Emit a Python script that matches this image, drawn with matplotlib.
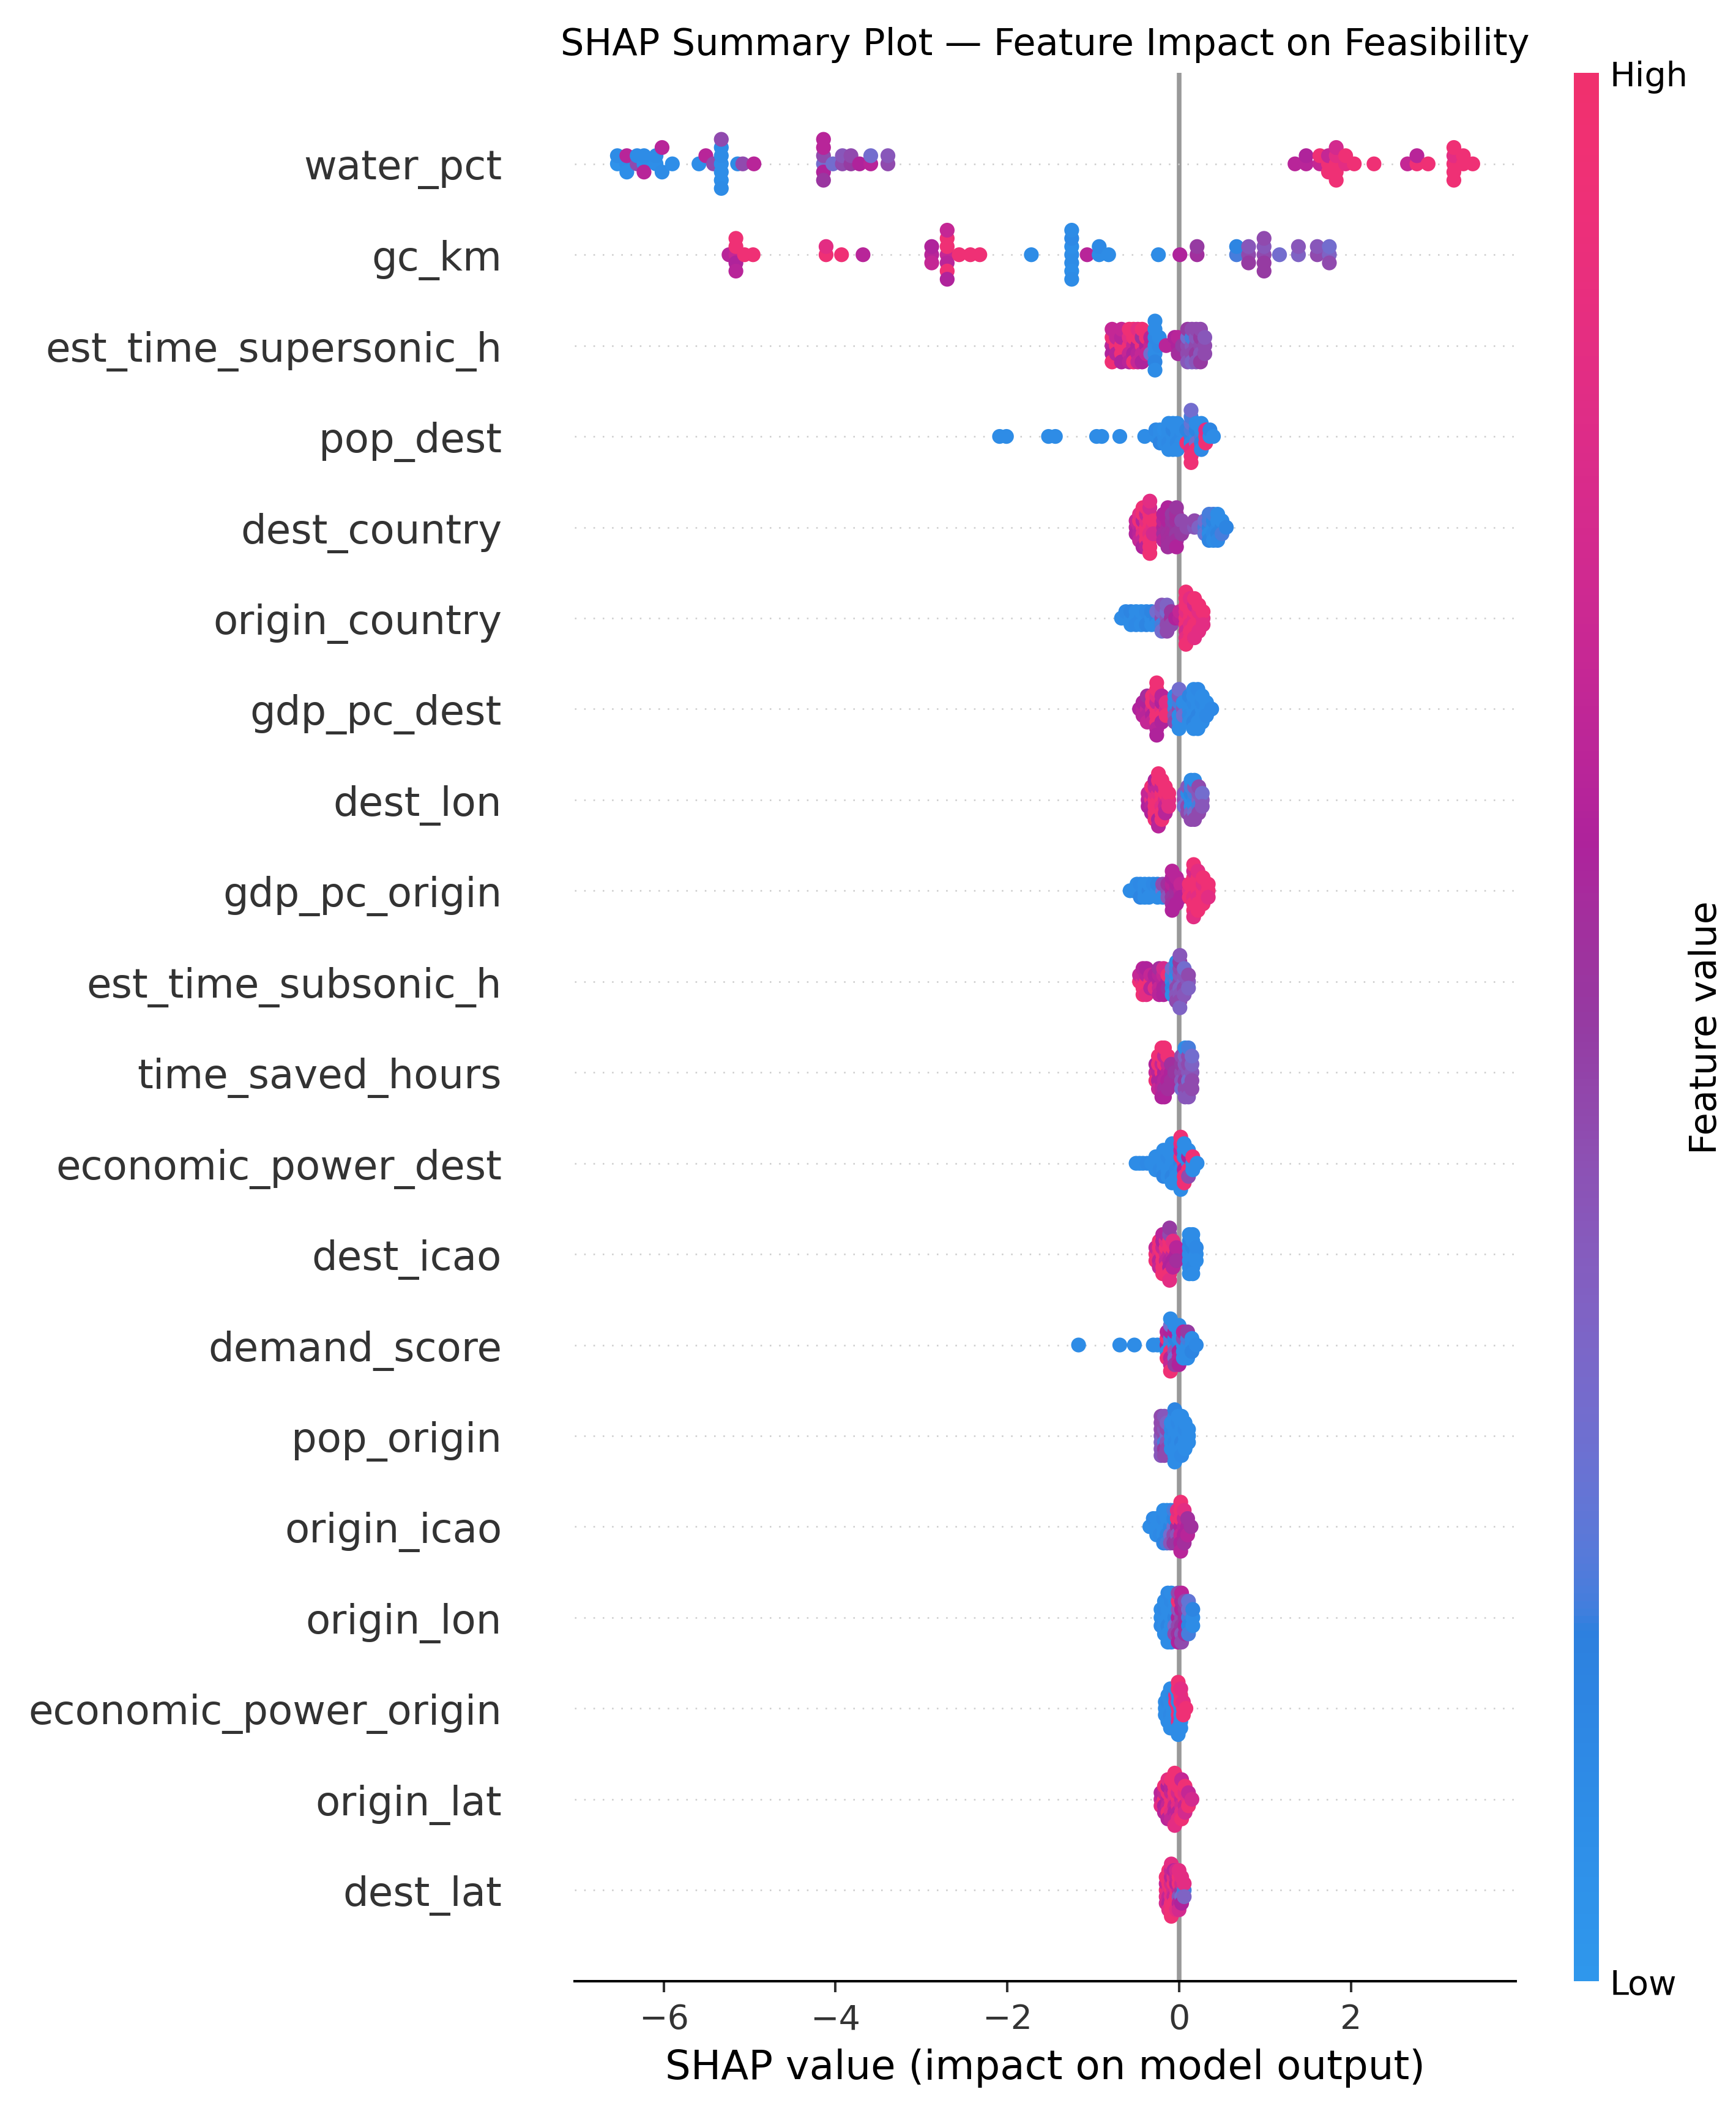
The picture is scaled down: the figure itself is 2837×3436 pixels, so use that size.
import numpy as np
import matplotlib
matplotlib.use("Agg")
import matplotlib.pyplot as plt
from matplotlib.colors import LinearSegmentedColormap, Normalize, rgb_to_hsv, hsv_to_rgb
from matplotlib.cm import ScalarMappable

# features, top row first
features = ["water_pct", "gc_km", "est_time_supersonic_h", "pop_dest", "dest_country",
            "origin_country", "gdp_pc_dest", "dest_lon", "gdp_pc_origin", "est_time_subsonic_h",
            "time_saved_hours", "economic_power_dest", "dest_icao", "demand_score", "pop_origin",
            "origin_icao", "origin_lon", "economic_power_origin", "origin_lat", "dest_lat"]

# each entry: (shap value, [normalised feature value of every point at that shap value])
water_pct = [
    (-6.54, [0.05, 0.1]), (-6.43, [0.1, 0.63, 0.08]), (-6.31, [0.45, 0.1]),
    (-6.23, [0.08, 0.1, 0.63]), (-6.09, [0.08, 0.1]), (-6.02, [0.1, 0.63]), (-5.90, [0.08]),
    (-5.59, [0.08]), (-5.51, [0.63]), (-5.42, [0.45]),
    (-5.33, [0.08, 0.1, 0.08, 0.1, 0.08, 0.45, 0.1]),
    (-5.14, [0.1]), (-5.08, [0.45]), (-4.95, [0.63]),
    (-4.14, [0.3, 0.45, 0.6, 0.63, 0.52, 0.63]), (-4.03, [0.3]), (-3.92, [0.45, 0.4]),
    (-3.82, [0.5, 0.45]), (-3.72, [0.6]), (-3.59, [0.63, 0.3]), (-3.39, [0.45, 0.4]),
    (1.35, [0.63]), (1.48, [0.63, 0.6]), (1.64, [0.68, 0.95]), (1.74, [0.95, 0.68, 0.95]),
    (1.83, [0.95, 0.85, 0.95, 0.75, 0.95]), (1.94, [0.85, 0.95]), (2.04, [0.95]), (2.27, [0.95]),
    (2.66, [0.68]), (2.77, [0.95, 0.63]), (2.90, [0.95]),
    (3.20, [0.95, 0.85, 0.95, 0.95, 0.95]), (3.31, [0.95, 0.95]), (3.42, [0.95]),
]
gc_km = [
    (-5.24, [0.63]), (-5.16, [0.68, 0.95, 0.6, 0.95, 0.63]), (-5.06, [0.95]), (-4.96, [0.95]),
    (-4.11, [0.95, 0.85]), (-3.93, [0.95]), (-3.68, [0.63]),
    (-2.88, [0.63, 0.6, 0.68]), (-2.70, [0.68, 0.95, 0.63, 0.95, 0.95, 0.68, 0.6]),
    (-2.56, [0.95]), (-2.43, [0.95]), (-2.32, [0.95]),
    (-1.72, [0.1]), (-1.25, [0.1, 0.08, 0.1, 0.12, 0.08, 0.1, 0.1]), (-1.07, [0.63]),
    (-0.93, [0.1, 0.12]), (-0.82, [0.1]),
    (-0.24, [0.1]), (0.01, [0.6]), (0.21, [0.55, 0.5]),
    (0.67, [0.2, 0.15]), (0.81, [0.45, 0.4, 0.5]), (0.99, [0.45, 0.4, 0.5, 0.45, 0.5]),
    (1.17, [0.3]), (1.39, [0.35, 0.4]), (1.61, [0.45, 0.4]), (1.75, [0.35, 0.3, 0.45]),
]
est_time_supersonic_h = [
    (-0.78, [0.63, 0.95, 0.6, 0.68, 0.95]), (-0.73, [0.95, 0.68, 0.63]),
    (-0.67, [0.95, 0.63, 0.95, 0.68, 0.6]), (-0.58, [0.95, 0.85, 0.68, 0.95, 0.63]),
    (-0.53, [0.68, 0.95, 0.6, 0.95, 0.95]), (-0.48, [0.6, 0.95, 0.63, 0.85, 0.68]),
    (-0.43, [0.95, 0.55, 0.68, 0.95, 0.6]), (-0.38, [0.6, 0.95, 0.68]), (-0.33, [0.68, 0.63, 0.3]),
    (-0.28, [0.1, 0.12, 0.1, 0.1, 0.15, 0.1, 0.1]), (-0.23, [0.12, 0.1]),
    (-0.15, [0.63]), (-0.05, [0.63, 0.6]), (-0.01, [0.6, 0.63, 0.56]), (0.04, [0.5]),
    (0.10, [0.45, 0.3, 0.45, 0.5, 0.4]), (0.15, [0.4, 0.2, 0.45, 0.45, 0.35]),
    (0.20, [0.45, 0.4, 0.5, 0.45, 0.4]), (0.25, [0.45, 0.5, 0.4, 0.45, 0.5]),
    (0.30, [0.45, 0.4, 0.45]),
]
pop_dest = [
    (-2.09, [0.1]), (-2.01, [0.1]), (-1.52, [0.1]), (-1.44, [0.1]), (-0.96, [0.1]),
    (-0.90, [0.1]), (-0.69, [0.1]), (-0.40, [0.1]),
    (-0.27, [0.1, 0.12]), (-0.22, [0.1, 0.1, 0.15]), (-0.17, [0.1, 0.08, 0.1]),
    (-0.12, [0.1, 0.1, 0.12, 0.1, 0.1]), (-0.07, [0.1, 0.15, 0.1, 0.1, 0.1]),
    (-0.02, [0.1, 0.1, 0.12, 0.1, 0.1]), (0.03, [0.12, 0.1, 0.1]),
    (0.09, [0.1, 0.15, 0.95]), (0.14, [0.15, 0.2, 0.12, 0.25, 0.85, 0.2, 0.95, 0.3, 0.95]),
    (0.20, [0.1, 0.15, 0.3, 0.1, 0.95]), (0.26, [0.2, 0.1, 0.15, 0.1, 0.12]),
    (0.31, [0.95, 0.85, 0.95]), (0.36, [0.1, 0.15]), (0.40, [0.1]),
]
dest_country = [
    (-0.50, [0.63, 0.68, 0.6]), (-0.46, [0.68, 0.95, 0.63, 0.85, 0.68]),
    (-0.42, [0.95, 0.63, 0.85, 0.95, 0.68, 0.95, 0.6]), (-0.38, [0.95, 0.85, 0.95, 0.68, 0.95, 0.95, 0.63]),
    (-0.34, [0.95, 0.95, 0.85, 0.95, 0.95, 0.75, 0.95, 0.85, 0.95]), (-0.30, [0.85, 0.95, 0.75]),
    (-0.18, [0.6, 0.63, 0.56, 0.6, 0.63]), (-0.13, [0.56, 0.6, 0.55, 0.6, 0.56, 0.6, 0.55]),
    (-0.08, [0.55, 0.52, 0.56, 0.5, 0.55]), (-0.03, [0.52, 0.55, 0.5, 0.56, 0.55, 0.52, 0.6]),
    (0.03, [0.5, 0.45, 0.5]), (0.09, [0.45]), (0.18, [0.4, 0.45]), (0.23, [0.35]),
    (0.30, [0.2, 0.3, 0.25]), (0.35, [0.15, 0.2, 0.1, 0.2, 0.15]), (0.40, [0.1, 0.15, 0.12, 0.2, 0.1]),
    (0.45, [0.12, 0.1, 0.15, 0.1, 0.12]), (0.50, [0.15, 0.1, 0.2]), (0.55, [0.15]),
]
origin_country = [
    (-0.67, [0.1]), (-0.62, [0.1, 0.12]), (-0.56, [0.1, 0.15, 0.1]), (-0.50, [0.1, 0.1, 0.12]),
    (-0.44, [0.12, 0.1, 0.1]), (-0.38, [0.1, 0.12, 0.15]), (-0.32, [0.1, 0.15, 0.1]),
    (-0.26, [0.15, 0.3, 0.1]), (-0.20, [0.45, 0.35, 0.2, 0.4, 0.3]),
    (-0.14, [0.4, 0.3, 0.45, 0.35, 0.45]), (-0.09, [0.55, 0.52, 0.45]), (-0.04, [0.6]), (0.01, [0.63, 0.68]),
    (0.08, [0.95, 0.85, 0.95, 0.95, 0.75, 0.95, 0.85, 0.95, 0.95]),
    (0.13, [0.95, 0.95, 0.85, 0.95, 0.95, 0.85, 0.95]), (0.18, [0.85, 0.95, 0.95, 0.75, 0.95, 0.95, 0.85]),
    (0.23, [0.95, 0.85, 0.95, 0.95, 0.85]), (0.28, [0.85, 0.95, 0.85]),
]
gdp_pc_dest = [
    (-0.46, [0.6]), (-0.42, [0.63, 0.6, 0.63]), (-0.37, [0.68, 0.6, 0.63, 0.56, 0.68]),
    (-0.31, [0.75, 0.95, 0.6, 0.95, 0.68]), (-0.26, [0.95, 0.68, 0.95, 0.85, 0.95, 0.95, 0.63, 0.95, 0.6]),
    (-0.20, [0.85, 0.6, 0.95, 0.63, 0.6]), (-0.15, [0.75, 0.85, 0.95]),
    (-0.05, [0.2, 0.1, 0.4, 0.1, 0.45]), (0.00, [0.45, 0.2, 0.1, 0.4, 0.1, 0.3, 0.1]), (0.05, [0.4, 0.1, 0.3]),
    (0.12, [0.1, 0.1, 0.12, 0.15, 0.1]), (0.17, [0.1, 0.12, 0.1, 0.1, 0.15, 0.1, 0.1]),
    (0.22, [0.1, 0.1, 0.15, 0.1, 0.1, 0.12, 0.1]), (0.27, [0.1, 0.12, 0.1, 0.1, 0.1]),
    (0.32, [0.1, 0.1, 0.12]), (0.38, [0.12]),
]
dest_lon = [
    (-0.36, [0.63, 0.68, 0.6]), (-0.32, [0.85, 0.68, 0.63, 0.95, 0.6]),
    (-0.28, [0.95, 0.85, 0.95, 0.68, 0.95, 0.6, 0.95]), (-0.24, [0.95, 0.85, 0.95, 0.68, 0.95, 0.95, 0.6, 0.95, 0.63]),
    (-0.20, [0.95, 0.95, 0.85, 0.68, 0.95, 0.95, 0.95]), (-0.16, [0.75, 0.95, 0.68, 0.95, 0.63]),
    (-0.12, [0.85, 0.95, 0.85]),
    (0.06, [0.45, 0.4, 0.3]), (0.10, [0.3, 0.1, 0.45, 0.4, 0.45]),
    (0.14, [0.1, 0.15, 0.1, 0.2, 0.35, 0.1, 0.45]), (0.18, [0.12, 0.2, 0.1, 0.4, 0.3, 0.1, 0.45]),
    (0.23, [0.35, 0.4, 0.2, 0.45, 0.45]), (0.27, [0.4, 0.3, 0.4]),
]
gdp_pc_origin = [
    (-0.57, [0.1]), (-0.53, [0.1]), (-0.49, [0.1, 0.1]), (-0.45, [0.1, 0.12, 0.15]),
    (-0.40, [0.1, 0.1, 0.1]), (-0.35, [0.15, 0.1, 0.1]), (-0.30, [0.1, 0.12]), (-0.25, [0.1, 0.15, 0.1]),
    (-0.19, [0.3, 0.45, 0.1]), (-0.13, [0.45, 0.55, 0.4]), (-0.08, [0.6, 0.63, 0.52, 0.6, 0.56, 0.63, 0.6]),
    (-0.03, [0.56, 0.6, 0.55, 0.63, 0.6]), (0.02, [0.63, 0.68, 0.6]),
    (0.12, [0.85, 0.95, 0.95]), (0.17, [0.95, 0.95, 0.85, 0.95, 0.95, 0.75, 0.95, 0.95, 0.85]),
    (0.22, [0.95, 0.95, 0.85, 0.95, 0.95, 0.85, 0.95]), (0.28, [0.95, 0.85, 0.95, 0.95, 0.95]),
    (0.34, [0.95, 0.95, 0.85]),
]
est_time_subsonic_h = [
    (-0.46, [0.95, 0.68]), (-0.42, [0.85, 0.68, 0.95, 0.63, 0.95]), (-0.38, [0.95, 0.63, 0.95, 0.6, 0.85]),
    (-0.33, [0.95, 0.68, 0.63]), (-0.28, [0.63, 0.6, 0.85]), (-0.23, [0.6, 0.63, 0.68, 0.56, 0.63]),
    (-0.18, [0.63, 0.68, 0.6, 0.75, 0.6]), (-0.13, [0.6, 0.95, 0.55]),
    (-0.08, [0.1, 0.2, 0.15, 0.3, 0.1]), (-0.03, [0.3, 0.1, 0.45, 0.2, 0.4, 0.1, 0.45]),
    (0.01, [0.45, 0.4, 0.35, 0.45, 0.4, 0.5, 0.45, 0.4, 0.35]), (0.06, [0.35, 0.4, 0.45, 0.3, 0.4]),
    (0.11, [0.4, 0.45, 0.35]),
]
time_saved_hours = [
    (-0.27, [0.68, 0.6, 0.95]), (-0.24, [0.63, 0.95, 0.6, 0.95, 0.68]),
    (-0.20, [0.95, 0.68, 0.6, 0.95, 0.63, 0.95, 0.6]), (-0.17, [0.6, 0.95, 0.63, 0.68, 0.56, 0.95, 0.6]),
    (-0.13, [0.63, 0.68, 0.6, 0.95, 0.56]), (-0.09, [0.6, 0.55, 0.56]), (-0.05, [0.52]),
    (0.03, [0.45, 0.5, 0.4, 0.45, 0.3]), (0.07, [0.45, 0.4, 0.5, 0.35, 0.45, 0.1, 0.4]),
    (0.11, [0.4, 0.45, 0.3, 0.45, 0.45, 0.2, 0.4]), (0.15, [0.4, 0.35, 0.45, 0.3, 0.45]),
]
economic_power_dest = [
    (-0.50, [0.1]), (-0.46, [0.1]), (-0.42, [0.1]), (-0.37, [0.12]), (-0.32, [0.1]),
    (-0.27, [0.1, 0.1, 0.1]), (-0.22, [0.1, 0.1, 0.12]), (-0.18, [0.1, 0.1, 0.1, 0.1, 0.15]),
    (-0.13, [0.1, 0.12, 0.1, 0.1, 0.1]), (-0.08, [0.1, 0.1, 0.1, 0.1, 0.15, 0.1, 0.1]),
    (-0.03, [0.1, 0.1, 0.12, 0.1, 0.1, 0.1, 0.1]),
    (0.02, [0.15, 0.95, 0.1, 0.68, 0.1, 0.85, 0.1, 0.95, 0.1]), (0.06, [0.95, 0.1, 0.63, 0.1, 0.95, 0.1, 0.95]),
    (0.11, [0.1, 0.6, 0.95, 0.1, 0.45]), (0.16, [0.1, 0.95, 0.1]), (0.21, [0.1]),
]
dest_icao = [
    (-0.27, [0.95, 0.68, 0.95]), (-0.23, [0.85, 0.95, 0.63, 0.95, 0.68]),
    (-0.19, [0.95, 0.68, 0.95, 0.6, 0.95, 0.63, 0.95]), (-0.15, [0.75, 0.95, 0.68, 0.85, 0.95, 0.63, 0.95]),
    (-0.11, [0.68, 0.95, 0.63, 0.95, 0.6, 0.45, 0.95, 0.5, 0.85]), (-0.07, [0.68, 0.95, 0.6, 0.85, 0.63]),
    (-0.03, [0.6, 0.63, 0.56]),
    (0.12, [0.1, 0.12, 0.1, 0.15, 0.1, 0.1, 0.1]), (0.16, [0.1, 0.15, 0.1, 0.1, 0.12, 0.1, 0.1]),
    (0.20, [0.1, 0.12, 0.1]),
]
demand_score = [
    (-1.17, [0.1]), (-0.69, [0.1]), (-0.52, [0.1]), (-0.30, [0.1]), (-0.25, [0.1]), (-0.19, [0.1]),
    (-0.14, [0.6, 0.95, 0.1, 0.63, 0.95]), (-0.10, [0.1, 0.2, 0.95, 0.6, 0.63, 0.3, 0.68, 0.1, 0.95]),
    (-0.05, [0.1, 0.15, 0.4, 0.6, 0.3, 0.1, 0.5]), (0.00, [0.15, 0.1, 0.6, 0.1, 0.63, 0.1, 0.6]),
    (0.05, [0.1, 0.45, 0.1, 0.63, 0.1]), (0.10, [0.1, 0.2, 0.1, 0.5, 0.1]), (0.15, [0.1, 0.1, 0.15]),
    (0.20, [0.12]),
]
pop_origin = [
    (-0.21, [0.4, 0.45, 0.35, 0.45, 0.4, 0.45, 0.4]), (-0.17, [0.45, 0.4, 0.2, 0.45, 0.5, 0.4, 0.45]),
    (-0.14, [0.3, 0.45, 0.4, 0.35, 0.45]), (-0.09, [0.1, 0.12, 0.1, 0.1, 0.1]),
    (-0.05, [0.1, 0.1, 0.12, 0.1, 0.1, 0.1, 0.1, 0.15, 0.1]), (-0.01, [0.1, 0.1, 0.1, 0.12, 0.1, 0.1, 0.1]),
    (0.03, [0.1, 0.1, 0.15, 0.1, 0.1, 0.1, 0.12]), (0.07, [0.1, 0.12, 0.1, 0.1, 0.1]), (0.11, [0.1, 0.1, 0.1]),
]
origin_icao = [
    (-0.34, [0.1]), (-0.30, [0.1, 0.12]), (-0.26, [0.1, 0.1, 0.1]), (-0.22, [0.1, 0.1, 0.12]),
    (-0.18, [0.1, 0.12, 0.1, 0.1, 0.15]), (-0.14, [0.1, 0.1, 0.15, 0.1, 0.2]),
    (-0.10, [0.15, 0.1, 0.3, 0.1, 0.4]), (-0.06, [0.3, 0.15, 0.45, 0.2, 0.5]),
    (-0.02, [0.55, 0.95, 0.4, 0.85, 0.5]), (0.02, [0.6, 0.95, 0.68, 0.95, 0.6, 0.95, 0.63]),
    (0.06, [0.63, 0.68, 0.6, 0.85, 0.56]), (0.10, [0.6, 0.55, 0.63]), (0.14, [0.55]),
]
origin_lon = [
    (-0.21, [0.1, 0.1, 0.12]), (-0.17, [0.1, 0.12, 0.1, 0.1, 0.1]), (-0.13, [0.1, 0.1, 0.15, 0.1, 0.1, 0.12, 0.1]),
    (-0.09, [0.1, 0.1, 0.1, 0.12, 0.1, 0.1, 0.1]), (-0.05, [0.15, 0.1, 0.3, 0.1, 0.45]),
    (-0.01, [0.6, 0.4, 0.45, 0.95, 0.55, 0.45, 0.6]), (0.03, [0.45, 0.6, 0.5, 0.56, 0.4, 0.63, 0.45]),
    (0.07, [0.55, 0.5, 0.6, 0.45, 0.55]), (0.11, [0.2, 0.3, 0.15, 0.25, 0.2]), (0.16, [0.1, 0.15, 0.1]),
]
economic_power_origin = [
    (-0.16, [0.1, 0.1, 0.1]), (-0.13, [0.1, 0.12, 0.1, 0.1, 0.1]), (-0.10, [0.1, 0.1, 0.12, 0.1, 0.1, 0.1, 0.1]),
    (-0.07, [0.1, 0.1, 0.1, 0.12, 0.1]), (-0.04, [0.1, 0.95, 0.1, 0.85, 0.1, 0.1, 0.1]),
    (-0.01, [0.95, 0.1, 0.95, 0.1, 0.85, 0.95, 0.1, 0.95, 0.1]), (0.02, [0.1, 0.95, 0.1, 0.95, 0.1, 0.85, 0.1]),
    (0.05, [0.95, 0.85, 0.95]), (0.08, [0.95]),
]
origin_lat = [
    (-0.21, [0.68, 0.63, 0.85]), (-0.17, [0.95, 0.68, 0.6, 0.95, 0.63]),
    (-0.13, [0.63, 0.95, 0.68, 0.6, 0.95, 0.85, 0.63]), (-0.09, [0.95, 0.68, 0.95, 0.63, 0.85, 0.95, 0.68]),
    (-0.05, [0.85, 0.95, 0.68, 0.95, 0.63, 0.95, 0.68, 0.95, 0.85]), (-0.01, [0.95, 0.75, 0.85, 0.95, 0.63, 0.95, 0.85]),
    (0.03, [0.68, 0.95, 0.75, 0.95, 0.85, 0.68, 0.95]), (0.07, [0.95, 0.85, 0.68, 0.95, 0.75]),
    (0.11, [0.85, 0.68, 0.95]), (0.15, [0.75]),
]
dest_lat = [
    (-0.15, [0.95, 0.68, 0.85, 0.95, 0.75]), (-0.12, [0.85, 0.95, 0.68, 0.95, 0.63, 0.95, 0.85]),
    (-0.09, [0.95, 0.75, 0.85, 0.63, 0.95, 0.68, 0.95, 0.85, 0.95]), (-0.06, [0.75, 0.95, 0.68, 0.85, 0.95, 0.63, 0.95]),
    (-0.03, [0.85, 0.63, 0.95, 0.68, 0.95, 0.75, 0.85]), (0.00, [0.68, 0.95, 0.4, 0.95, 0.63, 0.85, 0.75]),
    (0.03, [0.5, 0.75, 0.3, 0.85, 0.6]), (0.06, [0.2, 0.85, 0.35]),
]

rows = [water_pct, gc_km, est_time_supersonic_h, pop_dest, dest_country, origin_country,
        gdp_pc_dest, dest_lon, gdp_pc_origin, est_time_subsonic_h, time_saved_hours,
        economic_power_dest, dest_icao, demand_score, pop_origin, origin_icao, origin_lon,
        economic_power_origin, origin_lat, dest_lat]


# shap's red_blue colormap, built in LCh space (a little softened to match the picture)
def lch2rgb(l, c, h):
    a, b = c * np.cos(h), c * np.sin(h)
    fy = (l + 16) / 116
    f = np.array([fy + a / 500, fy, fy - b / 200])
    xyz = np.where(f ** 3 > 0.008856, f ** 3, (f - 16 / 116) / 7.787) * np.array([0.95047, 1.0, 1.08883])
    m = np.array([[3.2406, -1.5372, -0.4986], [-0.9689, 1.8758, 0.0415], [0.0557, -0.2040, 1.0570]])
    rgb = m @ xyz
    rgb = np.where(rgb > 0.0031308, 1.055 * np.clip(rgb, 0, None) ** (1 / 2.4) - 0.055, 12.92 * rgb)
    return np.clip(rgb, 0, 1)


nsteps = 100
l_vals = np.concatenate([np.linspace(54, 40, nsteps // 2), np.linspace(40, 54, nsteps // 2)])
c_vals = np.linspace(70, 90, nsteps)
h_vals = np.linspace(4.6588, 0.35470565 + 2 * np.pi, nsteps)
cols = np.array([lch2rgb(l, c, h) for l, c, h in zip(l_vals, c_vals, h_vals)])
hsv = rgb_to_hsv(cols)
hsv[:, 1] *= 0.8
hsv[:, 2] *= 0.94
cols = hsv_to_rgb(hsv)
red_blue = LinearSegmentedColormap.from_list("red_blue", list(zip(np.linspace(0, 1, nsteps), cols)))


def swarm_offsets(shaps, row_height=0.4, nbins=100):
    # same layering as shap's beeswarm
    quant = np.round(nbins * (shaps - shaps.min()) / (shaps.max() - shaps.min() + 1e-8))
    ys = np.zeros(len(shaps))
    layer, last_bin = 0, -1
    for ind in np.argsort(quant, kind="stable"):
        if quant[ind] != last_bin:
            layer = 0
        ys[ind] = np.ceil(layer / 2) * ((layer % 2) * 2 - 1)
        layer += 1
        last_bin = quant[ind]
    return ys * 0.9 * (row_height / np.max(ys + 1))


dpi = 364
fig = plt.figure(figsize=(2837 / dpi, 3437 / dpi), dpi=dpi)
ax = fig.add_axes([0.331, 0.058, 0.542, 0.907])
cax = fig.add_axes([0.9065, 0.058, 0.0145, 0.907])

n = len(features)
ax.axvline(x=0, color="#999999", zorder=-1)
for i, (name, row) in enumerate(zip(features, rows)):
    pos = n - 1 - i
    ax.axhline(y=pos, color="#cccccc", lw=0.5, dashes=(1, 5), zorder=-1)
    shaps = np.array([s for s, vals in row for _ in vals])
    cvals = np.array([v for s, vals in row for v in vals])
    ys = swarm_offsets(shaps)
    ax.scatter(shaps, pos + ys, c=cvals, cmap=red_blue, vmin=0, vmax=1, s=23,
               linewidth=0, zorder=3, rasterized=True)

ax.set_yticks(range(n))
ax.set_yticklabels(features[::-1], fontsize=13)
ax.set_ylim(-1, n)
ax.xaxis.set_ticks_position("bottom")
ax.yaxis.set_ticks_position("none")
ax.spines["right"].set_visible(False)
ax.spines["top"].set_visible(False)
ax.spines["left"].set_visible(False)
ax.tick_params(color="#333333", labelcolor="#333333")
ax.tick_params("y", length=20, width=0.5, which="major")
ax.tick_params("x", labelsize=11)
ax.set_xlabel("SHAP value (impact on model output)", fontsize=13)
ax.set_title("SHAP Summary Plot — Feature Impact on Feasibility", fontsize=12)

sm = ScalarMappable(norm=Normalize(0, 1), cmap=red_blue)
cb = fig.colorbar(sm, cax=cax, ticks=[0, 1])
cb.set_ticklabels(["Low", "High"])
cb.set_label("Feature value", size=12, labelpad=0)
cb.ax.tick_params(labelsize=11, length=0)
cb.outline.set_visible(False)

fig.savefig("out.png", dpi=dpi)
